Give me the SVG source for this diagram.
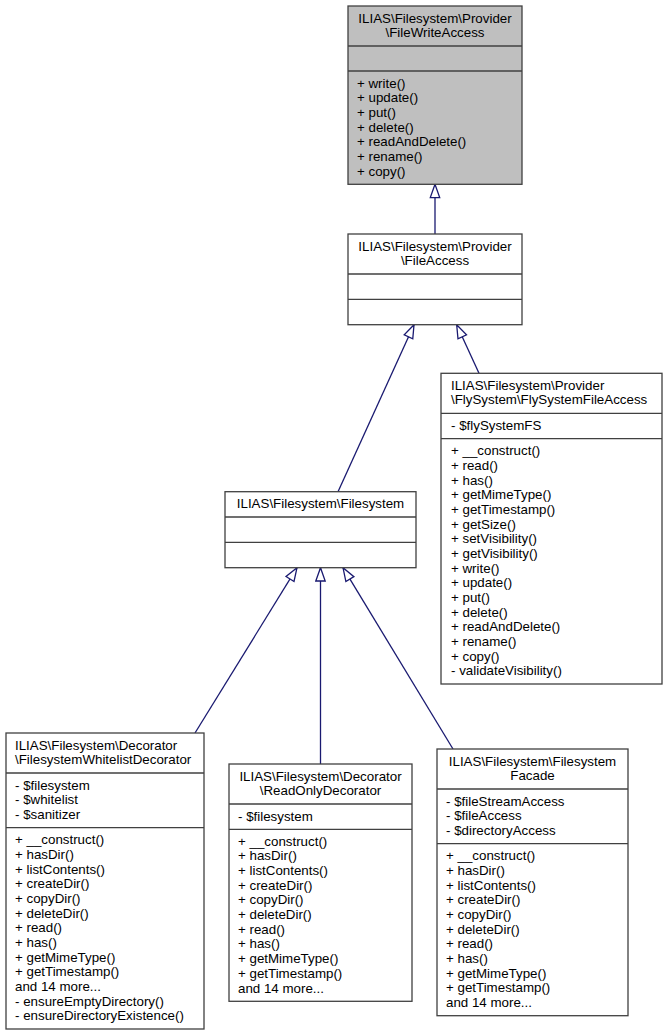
<svg xmlns="http://www.w3.org/2000/svg" width="667" height="1036" viewBox="0 0 667 1036">
<style>
.box{fill:#ffffff;stroke:#404040;stroke-width:1.3}
.focus{fill:#bfbfbf}
.div{stroke:#404040;stroke-width:1.3}
text{font-family:"Liberation Sans",Arial,Helvetica,sans-serif;font-size:13.33px;fill:#000}
.c{text-anchor:middle}
.edge{fill:none;stroke:#191970;stroke-width:1.3}
</style>
<defs>
<marker id="inh" viewBox="-15 -6 16 12" refX="0" refY="0" markerWidth="16" markerHeight="12" markerUnits="userSpaceOnUse" orient="auto">
<path d="M0,0 L-13.3,-4.7 L-13.3,4.7 Z" fill="#ffffff" stroke="#191970" stroke-width="1.3"/>
</marker>
</defs>
<rect width="667" height="1036" fill="#ffffff"/>

<g id="edges">
<path class="edge" d="M435,234 L435,184.3" marker-end="url(#inh)"/>
<path class="edge" d="M338,491.7 L414,324.7" marker-end="url(#inh)"/>
<path class="edge" d="M479,373.3 L456.7,324.7" marker-end="url(#inh)"/>
<path class="edge" d="M195,733 L297,567.7" marker-end="url(#inh)"/>
<path class="edge" d="M320.5,764 L320.5,567.7" marker-end="url(#inh)"/>
<path class="edge" d="M453,749 L343,567.7" marker-end="url(#inh)"/>
</g>

<g id="FileWriteAccess">
<rect class="box focus" x="348" y="6" width="174" height="178.3"/>
<line class="div" x1="348" y1="46" x2="522" y2="46"/>
<line class="div" x1="348" y1="71" x2="522" y2="71"/>
<text class="c" x="435" y="22.5">ILIAS\Filesystem\Provider<tspan x="435" dy="14.67">\FileWriteAccess</tspan></text>
<text x="357" y="87.5">+ write()<tspan x="357" dy="14.67">+ update()</tspan><tspan x="357" dy="14.67">+ put()</tspan><tspan x="357" dy="14.67">+ delete()</tspan><tspan x="357" dy="14.67">+ readAndDelete()</tspan><tspan x="357" dy="14.67">+ rename()</tspan><tspan x="357" dy="14.67">+ copy()</tspan></text>
</g>

<g id="FileAccess">
<rect class="box" x="348" y="234" width="174" height="90.7"/>
<line class="div" x1="348" y1="274" x2="522" y2="274"/>
<line class="div" x1="348" y1="299.3" x2="522" y2="299.3"/>
<text class="c" x="435" y="250.5">ILIAS\Filesystem\Provider<tspan x="435" dy="14.67">\FileAccess</tspan></text>
</g>

<g id="FlySystemFileAccess">
<rect class="box" x="441" y="373.3" width="221" height="310.7"/>
<line class="div" x1="441" y1="413.3" x2="662" y2="413.3"/>
<line class="div" x1="441" y1="438.7" x2="662" y2="438.7"/>
<text x="451" y="389.8">ILIAS\Filesystem\Provider<tspan x="451" dy="14.67">\FlySystem\FlySystemFileAccess</tspan></text>
<text x="451" y="429.8">- $flySystemFS</text>
<text x="451" y="455.2">+ __construct()<tspan x="451" dy="14.67">+ read()</tspan><tspan x="451" dy="14.67">+ has()</tspan><tspan x="451" dy="14.67">+ getMimeType()</tspan><tspan x="451" dy="14.67">+ getTimestamp()</tspan><tspan x="451" dy="14.67">+ getSize()</tspan><tspan x="451" dy="14.67">+ setVisibility()</tspan><tspan x="451" dy="14.67">+ getVisibility()</tspan><tspan x="451" dy="14.67">+ write()</tspan><tspan x="451" dy="14.67">+ update()</tspan><tspan x="451" dy="14.67">+ put()</tspan><tspan x="451" dy="14.67">+ delete()</tspan><tspan x="451" dy="14.67">+ readAndDelete()</tspan><tspan x="451" dy="14.67">+ rename()</tspan><tspan x="451" dy="14.67">+ copy()</tspan><tspan x="451" dy="14.67">- validateVisibility()</tspan></text>
</g>

<g id="Filesystem">
<rect class="box" x="225" y="491.7" width="191" height="76"/>
<line class="div" x1="225" y1="517" x2="416" y2="517"/>
<line class="div" x1="225" y1="542.3" x2="416" y2="542.3"/>
<text class="c" x="320.5" y="508.2">ILIAS\Filesystem\Filesystem</text>
</g>

<g id="FilesystemWhitelistDecorator">
<rect class="box" x="6" y="733" width="198" height="296"/>
<line class="div" x1="6" y1="773" x2="204" y2="773"/>
<line class="div" x1="6" y1="827.7" x2="204" y2="827.7"/>
<text x="15" y="749.5">ILIAS\Filesystem\Decorator<tspan x="15" dy="14.67">\FilesystemWhitelistDecorator</tspan></text>
<text x="15" y="789.5">- $filesystem<tspan x="15" dy="14.67">- $whitelist</tspan><tspan x="15" dy="14.67">- $sanitizer</tspan></text>
<text x="15" y="844.2">+ __construct()<tspan x="15" dy="14.67">+ hasDir()</tspan><tspan x="15" dy="14.67">+ listContents()</tspan><tspan x="15" dy="14.67">+ createDir()</tspan><tspan x="15" dy="14.67">+ copyDir()</tspan><tspan x="15" dy="14.67">+ deleteDir()</tspan><tspan x="15" dy="14.67">+ read()</tspan><tspan x="15" dy="14.67">+ has()</tspan><tspan x="15" dy="14.67">+ getMimeType()</tspan><tspan x="15" dy="14.67">+ getTimestamp()</tspan><tspan x="15" dy="14.67">and 14 more...</tspan><tspan x="15" dy="14.67">- ensureEmptyDirectory()</tspan><tspan x="15" dy="14.67">- ensureDirectoryExistence()</tspan></text>
</g>

<g id="ReadOnlyDecorator">
<rect class="box" x="229" y="764" width="183" height="237.3"/>
<line class="div" x1="229" y1="804" x2="412" y2="804"/>
<line class="div" x1="229" y1="829.3" x2="412" y2="829.3"/>
<text class="c" x="320.5" y="780.5">ILIAS\Filesystem\Decorator<tspan x="320.5" dy="14.67">\ReadOnlyDecorator</tspan></text>
<text x="238" y="820.5">- $filesystem</text>
<text x="238" y="845.8">+ __construct()<tspan x="238" dy="14.67">+ hasDir()</tspan><tspan x="238" dy="14.67">+ listContents()</tspan><tspan x="238" dy="14.67">+ createDir()</tspan><tspan x="238" dy="14.67">+ copyDir()</tspan><tspan x="238" dy="14.67">+ deleteDir()</tspan><tspan x="238" dy="14.67">+ read()</tspan><tspan x="238" dy="14.67">+ has()</tspan><tspan x="238" dy="14.67">+ getMimeType()</tspan><tspan x="238" dy="14.67">+ getTimestamp()</tspan><tspan x="238" dy="14.67">and 14 more...</tspan></text>
</g>

<g id="FilesystemFacade">
<rect class="box" x="437" y="749" width="191" height="266.7"/>
<line class="div" x1="437" y1="789" x2="628" y2="789"/>
<line class="div" x1="437" y1="843.7" x2="628" y2="843.7"/>
<text class="c" x="532.5" y="765.5">ILIAS\Filesystem\Filesystem<tspan x="532.5" dy="14.67">Facade</tspan></text>
<text x="446" y="805.5">- $fileStreamAccess<tspan x="446" dy="14.67">- $fileAccess</tspan><tspan x="446" dy="14.67">- $directoryAccess</tspan></text>
<text x="446" y="860.2">+ __construct()<tspan x="446" dy="14.67">+ hasDir()</tspan><tspan x="446" dy="14.67">+ listContents()</tspan><tspan x="446" dy="14.67">+ createDir()</tspan><tspan x="446" dy="14.67">+ copyDir()</tspan><tspan x="446" dy="14.67">+ deleteDir()</tspan><tspan x="446" dy="14.67">+ read()</tspan><tspan x="446" dy="14.67">+ has()</tspan><tspan x="446" dy="14.67">+ getMimeType()</tspan><tspan x="446" dy="14.67">+ getTimestamp()</tspan><tspan x="446" dy="14.67">and 14 more...</tspan></text>
</g>
</svg>
